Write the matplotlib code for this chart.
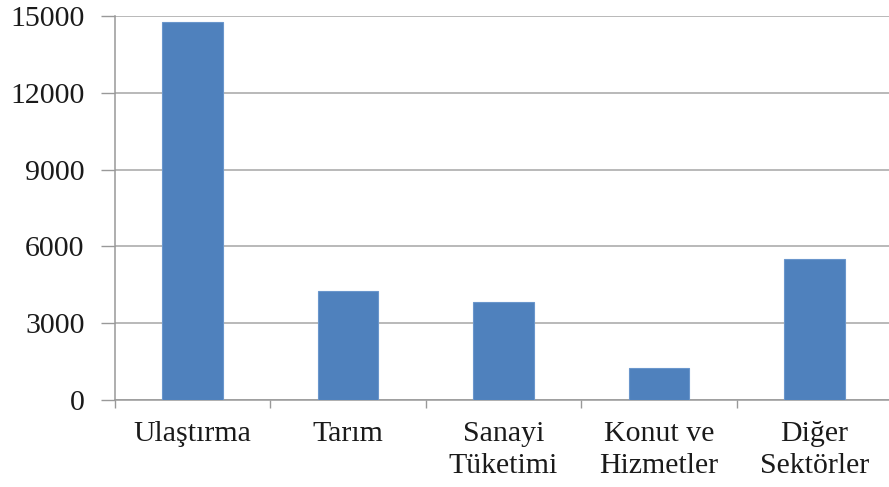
import matplotlib.pyplot as plt
import numpy as np

# Sector values
categories = ["Ulaştırma", "Tarım", "Sanayi\nTüketimi", "Konut ve\nHizmetler", "Diğer\nSektörler"]
values = [14770, 4270, 3840, 1240, 5500]
yticks = [0, 3000, 6000, 9000, 12000, 15000]

plt.rcParams['font.family'] = ['Liberation Serif', 'DejaVu Serif']

fig = plt.figure(figsize=(8.89, 4.87), dpi=100)
ax = fig.add_axes([115 / 889, (487 - 400) / 487, 777 / 889, 384 / 487])

x = np.arange(len(categories))
ax.bar(x, values, width=0.39, color="#4F81BD", edgecolor="#6A96CC", linewidth=0.8, zorder=3)

ax.set_xlim(-0.5, len(categories) - 0.5)
ax.set_ylim(0, 15000)
ax.set_yticks(yticks)
ax.set_yticklabels([str(v) for v in yticks], fontsize=21.5, color="#1a1a1a")

# category separators as minor ticks, labels at the major positions
ax.set_xticks(x)
ax.set_xticklabels(categories, fontsize=21.5, color="#1a1a1a", linespacing=1.3)
ax.set_xticks(np.arange(-0.5, len(categories), 1.0), minor=True)
ax.tick_params(axis="x", which="major", length=0, pad=15)
ax.tick_params(axis="x", which="minor", length=6, color="#999999", width=1)
ax.tick_params(axis="y", length=10, color="#999999", width=1, pad=12)

ax.grid(axis="y", color="#A6A6A6", linewidth=1.1, zorder=0)
for side in ["top", "right"]:
    ax.spines[side].set_visible(False)
ax.spines["left"].set_color("#999999")
ax.spines["bottom"].set_color("#999999")
ax.spines["left"].set_linewidth(1.1)
ax.spines["bottom"].set_linewidth(1.1)

fig.savefig("out.png", dpi=100)
